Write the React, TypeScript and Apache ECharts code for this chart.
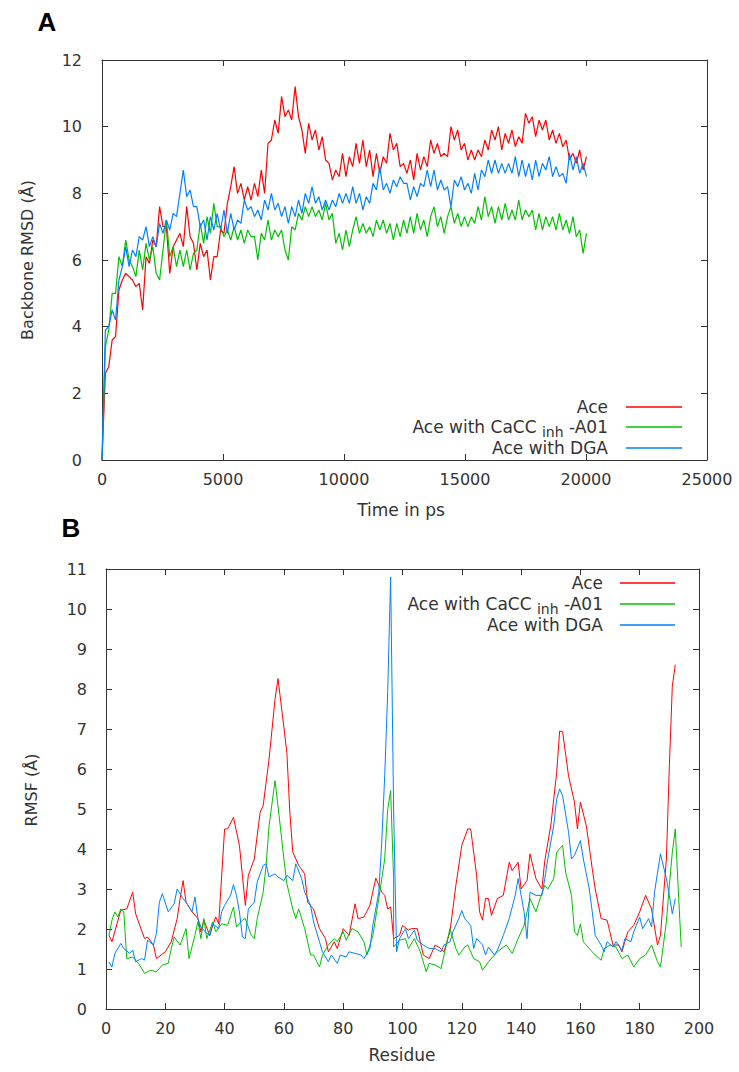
import React, { useEffect, useRef } from "react";
import * as echarts from "echarts";

// ---------- data ----------
const seriesNames = ["Ace", "Ace with CaCC inh-A01", "Ace with DGA"];
const seriesColors = ["#ff0000", "#00c000", "#0080ff"];

// Panel A: backbone RMSD (Å), sampled every rmsdStepPs picoseconds from 0 ps
const rmsdStepPs = 140;
const aceRmsd = [
  0, 2.6, 2.8, 3.6, 3.7, 5.1, 5.4, 5.6, 5.5, 5.4,
  5.2, 5.3, 4.5, 6.1, 5.9, 6.6, 6.4, 7.6, 7.0, 7.0,
  5.6, 6.4, 6.6, 6.8, 6.4, 7.6, 6.7, 6.5, 5.7, 6.5,
  6.1, 6.3, 5.4, 6.1, 6.1, 6.9, 6.8, 7.7, 8.2, 8.8,
  8.0, 8.3, 7.8, 8.2, 7.8, 8.3, 7.9, 8.7, 8.0, 9.5,
  9.6, 10.2, 9.8, 10.9, 10.3, 10.5, 10.2, 11.2, 10.3, 9.9,
  9.2, 10.1, 9.6, 9.9, 9.3, 9.7, 9.0, 8.9, 8.4, 8.7,
  8.5, 9.2, 8.5, 9.1, 8.8, 9.5, 8.9, 9.6, 8.8, 9.3,
  8.5, 9.2, 8.6, 9.1, 8.9, 9.8, 9.3, 9.5, 8.8, 8.9,
  8.6, 9.0, 8.4, 9.2, 8.7, 9.1, 8.8, 9.6, 9.2, 9.5,
  9.1, 9.2, 9.1, 10.0, 9.6, 9.9, 9.3, 9.5, 9.0, 9.3,
  9.0, 9.3, 9.1, 9.6, 9.3, 9.9, 9.6, 10.0, 9.3, 9.8,
  9.5, 9.9, 9.4, 9.7, 9.5, 10.4, 10.1, 10.3, 9.7, 10.2,
  9.9, 10.2, 9.6, 9.9, 9.5, 9.8, 9.4, 9.6, 9.0, 9.2,
  8.9, 9.3, 8.7, 9.1,
];
const cacRmsd = [
  0, 3.4, 3.9, 5.0, 5.0, 6.1, 5.8, 6.6, 6.0, 5.8,
  5.5, 6.3, 5.7, 6.5, 6.0, 6.4, 5.6, 5.4, 6.3, 7.2,
  6.1, 6.4, 5.8, 6.3, 5.8, 6.3, 5.7, 6.2, 6.3, 7.1,
  6.5, 7.3, 6.8, 7.7, 7.0, 7.0, 6.7, 6.9, 6.6, 7.0,
  6.6, 6.9, 6.5, 6.9, 6.7, 6.7, 6.0, 6.8, 6.6, 7.2,
  6.6, 6.9, 6.7, 6.9, 6.3, 6.0, 7.0, 6.9, 7.4, 7.2,
  7.6, 7.3, 7.6, 7.3, 7.5, 7.2, 7.7, 7.2, 7.4, 6.5,
  6.8, 6.3, 6.9, 6.4, 6.9, 7.3, 6.8, 7.1, 6.8, 7.0,
  6.7, 7.2, 6.9, 7.2, 6.8, 7.1, 6.6, 7.1, 6.7, 7.2,
  6.8, 7.3, 6.8, 7.4, 6.9, 7.2, 6.7, 7.3, 7.6, 7.0,
  7.3, 6.8, 7.3, 7.6, 7.1, 7.4, 7.0, 7.3, 7.0, 7.3,
  7.1, 7.6, 7.2, 7.9, 7.3, 7.6, 7.1, 7.6, 7.2, 7.7,
  7.2, 7.5, 7.2, 7.8, 7.2, 7.5, 7.3, 7.5, 6.9, 7.4,
  6.9, 7.3, 7.0, 7.3, 6.9, 7.4, 6.9, 7.2, 6.8, 7.3,
  6.7, 6.9, 6.2, 6.8,
];
const dgaRmsd = [
  0, 3.9, 4.0, 4.5, 4.2, 5.4, 5.8, 6.4, 5.8, 6.3,
  6.1, 6.7, 6.6, 7.0, 6.4, 6.7, 6.4, 7.1, 6.8, 7.2,
  6.9, 7.4, 7.3, 8.0, 8.7, 7.9, 8.1, 7.6, 7.6, 7.0,
  7.2, 6.6, 7.3, 6.9, 7.4, 6.9, 7.5, 6.8, 7.4, 6.9,
  7.2, 7.1, 7.8, 7.5, 7.6, 7.3, 7.5, 7.2, 7.8, 7.5,
  8.0, 7.5, 7.7, 7.3, 7.6, 7.1, 7.6, 7.3, 7.8, 7.4,
  8.0, 7.7, 8.2, 7.7, 7.9, 7.5, 7.8, 7.5, 7.8, 7.6,
  8.0, 7.7, 8.0, 7.7, 8.2, 7.7, 8.0, 7.5, 7.9, 7.7,
  8.3, 8.1, 8.8, 8.1, 8.3, 8.0, 8.4, 8.2, 8.5, 8.3,
  8.3, 7.8, 8.2, 7.9, 8.3, 8.2, 8.7, 8.2, 8.7, 8.1,
  8.4, 8.1, 8.2, 7.6, 8.4, 8.2, 8.5, 8.1, 8.3, 8.0,
  8.6, 8.1, 8.7, 8.5, 9.0, 8.6, 9.0, 8.6, 8.9, 8.6,
  8.9, 8.6, 9.1, 8.5, 9.0, 8.5, 8.9, 8.4, 9.0, 8.5,
  8.9, 8.7, 9.1, 8.5, 8.8, 8.5, 8.6, 8.3, 9.2, 8.7,
  9.1, 8.6, 8.9, 8.5,
];

// Panel B: RMSF (Å) per residue, [residue, value]
const aceRmsf: [number, number][] = [
  [1, 1.84], [2, 1.68], [5, 2.47], [7, 2.5], [9, 2.92], [10, 2.38], [13, 1.76], [14, 1.8], [16, 1.6], [17, 1.26],
  [20, 1.43], [22, 1.68], [24, 2.26], [25, 2.76], [26, 3.21], [27, 2.67], [29, 2.43], [31, 2.26], [32, 1.93], [33, 2.22],
  [35, 1.84], [36, 2.09], [37, 2.3], [38, 2.13], [40, 4.5], [41, 4.5], [43, 4.79], [45, 4.09], [47, 2.59], [48, 3.34],
  [50, 3.75], [52, 4.92], [53, 5.08], [55, 6.25], [57, 7.74], [58, 8.26], [59, 7.66], [61, 6.41], [62, 4.92], [63, 3.92],
  [65, 3.59], [67, 3.38], [68, 2.67], [70, 2.5], [72, 2.01], [74, 1.76], [75, 1.43], [77, 1.68], [78, 1.51], [80, 2.01],
  [82, 1.84], [84, 2.63], [85, 2.26], [87, 2.3], [89, 2.59], [91, 3.27], [93, 2.92], [94, 2.84], [95, 2.5], [96, 2.55],
  [97, 1.76], [99, 1.84], [100, 2.09], [102, 1.97], [103, 2.01], [105, 2.01], [107, 1.35], [109, 1.26], [111, 1.6], [113, 1.51],
  [114, 1.43], [116, 1.93], [118, 3.09], [120, 4.09], [122, 4.5], [123, 4.5], [125, 3.34], [126, 2.43], [127, 2.22], [128, 2.76],
  [129, 2.76], [130, 2.34], [132, 2.76], [134, 2.84], [136, 3.67], [137, 3.46], [139, 3.67], [140, 3.0], [142, 3.21], [143, 3.88],
  [145, 3.26], [147, 3.0], [148, 3.71], [150, 4.58], [152, 5.91], [153, 6.95], [154, 6.93], [156, 5.83], [158, 5.17], [159, 4.5],
  [160, 5.17], [162, 4.58], [164, 3.5], [165, 3.0], [167, 2.26], [169, 2.22], [171, 1.6], [173, 1.6], [174, 1.43], [176, 1.93],
  [178, 2.09], [180, 2.43], [182, 2.84], [184, 2.5], [186, 1.6], [187, 1.84], [189, 3.75], [190, 6.08], [191, 8.07], [192, 8.61],
];
const cacRmsf: [number, number][] = [
  [1, 1.84], [2, 2.22], [3, 2.43], [4, 2.3], [5, 2.5], [6, 2.43], [7, 1.26], [9, 1.3], [11, 1.14], [13, 0.89],
  [15, 0.97], [17, 0.93], [19, 1.1], [21, 1.14], [22, 1.51], [23, 1.8], [25, 1.6], [27, 2.01], [28, 1.26], [30, 1.84],
  [31, 2.18], [32, 1.76], [33, 2.26], [34, 1.76], [36, 2.18], [37, 1.93], [39, 2.13], [41, 2.09], [43, 2.55], [44, 2.05],
  [46, 2.22], [47, 2.26], [49, 1.84], [50, 1.76], [51, 2.26], [53, 2.92], [54, 3.59], [55, 4.58], [57, 5.71], [58, 5.08],
  [60, 3.75], [61, 3.13], [63, 2.5], [64, 2.26], [65, 2.5], [67, 2.01], [69, 1.35], [70, 1.35], [72, 1.05], [73, 1.35],
  [75, 1.6], [77, 1.76], [78, 1.68], [80, 1.93], [81, 1.72], [83, 2.01], [85, 1.93], [87, 1.68], [88, 1.35], [90, 1.84],
  [92, 2.76], [94, 3.75], [95, 4.98], [96, 5.46], [97, 3.26], [97, 1.55], [99, 1.72], [101, 1.76], [102, 1.51], [104, 1.76],
  [106, 1.43], [108, 0.93], [109, 1.14], [111, 1.1], [113, 1.01], [115, 1.68], [116, 2.01], [118, 1.51], [119, 1.35], [121, 1.55],
  [122, 1.6], [124, 1.26], [126, 1.18], [127, 0.97], [129, 1.18], [132, 1.43], [135, 1.6], [137, 1.39], [139, 1.76], [141, 2.09],
  [143, 2.76], [145, 2.43], [146, 2.67], [148, 3.09], [149, 3.0], [151, 3.26], [152, 3.92], [154, 4.09], [155, 3.42], [157, 2.84],
  [158, 1.93], [159, 1.84], [160, 2.13], [161, 1.68], [163, 1.51], [165, 1.35], [167, 1.22], [168, 1.51], [170, 1.6], [172, 1.55],
  [174, 1.26], [176, 1.35], [178, 1.05], [180, 1.26], [182, 1.35], [184, 1.6], [186, 1.18], [187, 1.05], [189, 2.18], [190, 3.09],
  [191, 3.92], [192, 4.5], [193, 3.0], [194, 1.55],
];
const dgaRmsf: [number, number][] = [
  [1, 1.18], [2, 1.05], [3, 1.39], [5, 1.64], [6, 1.51], [8, 1.39], [9, 1.47], [10, 1.18], [12, 1.26], [13, 1.22],
  [14, 1.72], [16, 1.6], [17, 1.89], [18, 2.67], [19, 2.88], [21, 2.43], [23, 2.63], [24, 3.0], [26, 2.76], [27, 2.67],
  [29, 2.43], [30, 2.8], [31, 2.26], [32, 2.05], [34, 1.89], [35, 1.84], [36, 2.13], [38, 2.01], [39, 2.43], [40, 2.59],
  [42, 2.84], [43, 3.11], [44, 2.84], [45, 2.43], [46, 1.8], [47, 1.76], [48, 2.5], [50, 2.67], [51, 3.17], [53, 3.59],
  [54, 3.63], [55, 3.3], [57, 3.38], [58, 3.3], [60, 3.21], [61, 3.34], [63, 3.21], [64, 3.63], [66, 3.26], [67, 2.92],
  [69, 2.59], [70, 2.18], [72, 1.68], [73, 1.43], [75, 1.18], [76, 1.35], [78, 1.14], [79, 1.35], [81, 1.3], [82, 1.43],
  [84, 1.39], [86, 1.35], [87, 1.26], [89, 1.51], [90, 2.09], [92, 2.92], [93, 4.17], [94, 5.83], [95, 7.91], [96, 10.8],
  [97, 5.0], [98, 1.43], [99, 1.76], [101, 2.01], [102, 1.76], [104, 1.97], [105, 1.72], [107, 1.6], [109, 1.51], [111, 1.51],
  [113, 1.43], [114, 1.6], [116, 1.68], [117, 1.93], [119, 2.26], [120, 2.46], [121, 2.26], [123, 2.09], [124, 1.51], [125, 1.76],
  [127, 1.6], [128, 1.35], [129, 1.55], [131, 1.35], [132, 1.47], [134, 1.84], [136, 2.26], [138, 2.84], [139, 3.26], [141, 2.43],
  [142, 1.76], [143, 2.92], [145, 2.84], [147, 2.84], [148, 3.26], [149, 3.75], [151, 4.58], [152, 5.25], [153, 5.5], [154, 5.33],
  [156, 4.42], [157, 3.75], [158, 3.84], [160, 4.21], [161, 3.75], [163, 3.0], [164, 2.43], [165, 1.84], [167, 1.6], [168, 1.43],
  [169, 1.68], [171, 1.55], [172, 1.68], [174, 1.47], [175, 1.76], [177, 1.68], [178, 1.93], [180, 2.3], [181, 2.01], [183, 2.26],
  [184, 2.05], [185, 2.92], [187, 3.88], [189, 3.26], [190, 2.84], [191, 2.38], [192, 2.76],
];

// axis ranges [min, max, interval]
const rmsdXRange = [0, 25000, 5000];
const rmsdYRange = [0, 12, 2];
const rmsfXRange = [0, 200, 20];
const rmsfYRange = [0, 11, 1];

// ---------- styling ----------
const FONT = "'DejaVu Sans', Verdana, sans-serif";
const TEXT = "#333333";
const AXIS = "#333333";

function axisPair(kind: "x" | "y", grid: number, range: number[], margin: number) {
  const base: any = {
    type: "value",
    gridIndex: grid,
    min: range[0],
    max: range[1],
    interval: range[2],
    axisLine: { show: true, onZero: false, lineStyle: { color: AXIS, width: 1 } },
    axisTick: { show: true, inside: true, length: 6, lineStyle: { color: AXIS, width: 1 } },
    splitLine: { show: false },
  };
  return [
    {
      ...base,
      position: kind === "x" ? "bottom" : "left",
      axisLabel: {
        show: true,
        margin,
        color: TEXT,
        fontSize: 16,
        fontFamily: FONT,
        formatter: (v: number) => String(v),
      },
    },
    { ...base, position: kind === "x" ? "top" : "right", axisLabel: { show: false } },
  ];
}

function legendGraphics(textRight: number, lineX1: number, lineX2: number, ys: number[]) {
  const els: any[] = [];
  const labels = ["Ace", "Ace with CaCC {sub|inh} -A01", "Ace with DGA"];
  labels.forEach((label, i) => {
    els.push({
      type: "text",
      x: textRight,
      y: ys[i],
      style: {
        text: label,
        align: "right",
        verticalAlign: "middle",
        fontSize: 17,
        lineHeight: 17,
        fontFamily: FONT,
        fill: TEXT,
        rich: {
          sub: { fontSize: 14, lineHeight: 6, fontFamily: FONT, fill: TEXT, padding: [10, 0, 0, 0] },
        },
      },
    });
    els.push({
      type: "line",
      shape: { x1: lineX1, y1: ys[i], x2: lineX2, y2: ys[i] },
      style: { stroke: seriesColors[i], lineWidth: 1.3 },
    });
  });
  return els;
}

function textEl(text: string, x: number, y: number, size: number, rotate = 0, bold = false, family = FONT) {
  return {
    type: "text",
    x,
    y,
    rotation: rotate,
    style: {
      text,
      align: "center",
      verticalAlign: "middle",
      fontSize: size,
      fontFamily: family,
      fontWeight: bold ? "bold" : "normal",
      fill: bold ? "#000" : TEXT,
    },
  };
}

export default function App() {
  const ref = useRef<HTMLDivElement>(null);

  useEffect(() => {
    document.body.style.margin = "0";
    if (!ref.current) return;
    const chart = echarts.init(ref.current, undefined, { renderer: "svg" });

    const rmsdSeries = [aceRmsd, cacRmsd, dgaRmsd].map((arr, k) => ({
      name: seriesNames[k],
      type: "line",
      xAxisIndex: 0,
      yAxisIndex: 0,
      showSymbol: false,
      symbol: "none",
      lineStyle: { color: seriesColors[k], width: 1.2 },
      data: arr.map((v, i) => [i * rmsdStepPs, v]),
    }));
    const rmsfSeries = [aceRmsf, cacRmsf, dgaRmsf].map((arr, k) => ({
      name: seriesNames[k] + " ",
      type: "line",
      xAxisIndex: 2,
      yAxisIndex: 2,
      showSymbol: false,
      symbol: "none",
      lineStyle: { color: seriesColors[k], width: 1 },
      data: arr,
    }));

    const option: any = {
      animation: false,
      backgroundColor: "#ffffff",
      grid: [
        { left: 102, top: 60, width: 605, height: 400 },
        { left: 106, top: 569, width: 593, height: 440 },
      ],
      xAxis: [...axisPair("x", 0, rmsdXRange, 11), ...axisPair("x", 1, rmsfXRange, 11)],
      yAxis: [...axisPair("y", 0, rmsdYRange, 20), ...axisPair("y", 1, rmsfYRange, 19)],
      series: [...rmsdSeries, ...rmsfSeries],
      graphic: [
        textEl("A", 47, 22, 26, 0, true, "'Liberation Sans', Arial, sans-serif"),
        textEl("B", 71, 528, 26, 0, true, "'Liberation Sans', Arial, sans-serif"),
        textEl("Backbone RMSD (Å)", 27, 260, 16, Math.PI / 2),
        textEl("Time in ps", 401, 510, 17),
        textEl("RMSF (Å)", 31, 790, 16, Math.PI / 2),
        textEl("Residue", 402, 1055, 17),
        ...legendGraphics(608, 626, 682, [407, 427, 448]),
        ...legendGraphics(603, 620, 675, [583, 604, 625]),
      ],
    };
    chart.setOption(option);
    return () => chart.dispose();
  }, []);

  return <div ref={ref} style={{ width: 739, height: 1072 }} />;
}
